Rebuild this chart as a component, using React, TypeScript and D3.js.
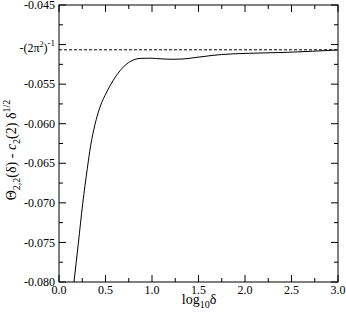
import React from 'react';
import * as d3 from 'd3';

// values
const logDelta = [0.161, 0.208, 0.255, 0.304, 0.34, 0.387, 0.441, 0.513, 0.584, 0.656, 0.745, 0.871, 0.978, 1.118, 1.226, 1.333, 1.484, 1.656, 1.839, 2.05, 2.45, 3.0];
const theta = [-0.0800, -0.0751, -0.0701, -0.0657, -0.0628, -0.0601, -0.0579, -0.0560, -0.0545, -0.0533, -0.0523, -0.05175, -0.05172, -0.05182, -0.05186, -0.05182, -0.05161, -0.05136, -0.05119, -0.0511, -0.05098, -0.05068];

const xMajor = [0, 0.5, 1.0, 1.5, 2.0, 2.5, 3.0];
const xMinor = [0.25, 0.75, 1.25, 1.75, 2.25, 2.75];
const yMajor = [-0.080, -0.075, -0.070, -0.065, -0.060, -0.055, -0.050, -0.045];
const yMinor = [-0.0775, -0.0725, -0.0675, -0.0625, -0.0575, -0.0525, -0.0475];
const yLabels = ['-0.080', '-0.075', '-0.070', '-0.065', '-0.060', '-0.055', '', '-0.045'];
const asymptote = -1 / (2 * Math.PI * Math.PI);

const W = 346, H = 315;
const m = { left: 59, right: 338, top: 5, bottom: 282 };
const css = `svg text, svg tspan { font-family: "Liberation Serif", "Times New Roman", Tinos, serif !important; }`;

export default function App() {
  const x = d3.scaleLinear().domain([0, 3]).range([m.left, m.right]);
  const y = d3.scaleLinear().domain([-0.080, -0.045]).range([m.bottom, m.top]);

  const pts: [number, number][] = logDelta.map((d, i) => [d, theta[i]]);
  const line = d3.line<[number, number]>()
    .x(d => x(d[0]))
    .y(d => y(d[1]))
    .curve(d3.curveMonotoneX);

  const ya = y(asymptote);

  return (
    <svg width={W} height={H} style={{ position: 'absolute', left: 0, top: 0 }}>
      <style>{css}</style>
      <rect width={W} height={H} fill="white" />
      <defs>
        <clipPath id="plot">
          <rect x={m.left} y={m.top} width={m.right - m.left} height={m.bottom - m.top} />
        </clipPath>
      </defs>

      {/* ticks, inward on all four sides */}
      <g stroke="black" strokeWidth={1}>
        {xMajor.map(v => (
          <g key={'xM' + v}>
            <line x1={x(v)} x2={x(v)} y1={m.bottom} y2={m.bottom - 7} />
            <line x1={x(v)} x2={x(v)} y1={m.top} y2={m.top + 7} />
          </g>
        ))}
        {xMinor.map(v => (
          <g key={'xm' + v}>
            <line x1={x(v)} x2={x(v)} y1={m.bottom} y2={m.bottom - 4} />
            <line x1={x(v)} x2={x(v)} y1={m.top} y2={m.top + 4} />
          </g>
        ))}
        {yMajor.map(v => (
          <g key={'yM' + v}>
            <line x1={m.left} x2={m.left + 7} y1={y(v)} y2={y(v)} />
            <line x1={m.right} x2={m.right - 7} y1={y(v)} y2={y(v)} />
          </g>
        ))}
        {yMinor.map(v => (
          <g key={'ym' + v}>
            <line x1={m.left} x2={m.left + 4} y1={y(v)} y2={y(v)} />
            <line x1={m.right} x2={m.right - 4} y1={y(v)} y2={y(v)} />
          </g>
        ))}
      </g>

      <line x1={m.left} x2={m.right} y1={ya} y2={ya}
            stroke="black" strokeWidth={1} strokeDasharray="3,2" />

      <path d={line(pts) ?? ''} fill="none" stroke="black" strokeWidth={1}
            clipPath="url(#plot)" />

      <rect x={m.left} y={m.top} width={m.right - m.left} height={m.bottom - m.top}
            fill="none" stroke="black" strokeWidth={1} />

      {/* tick labels */}
      <g fontSize={12} fill="black">
        {xMajor.map(v => (
          <text key={'xl' + v} x={x(v)} y={294} textAnchor="middle">{v.toFixed(1)}</text>
        ))}
        {yMajor.map((v, i) => yLabels[i] && (
          <text key={'yl' + v} x={55} y={y(v)} dy="0.35em" textAnchor="end">{yLabels[i]}</text>
        ))}
        <text x={55} y={ya + 2} textAnchor="end">
          -(2π<tspan dy={-5} fontSize={8}>2</tspan><tspan dy={5}>)</tspan>
          <tspan dy={-6} fontSize={9}>-1</tspan>
        </text>
      </g>

      {/* axis titles */}
      <text x={199} y={304} fontSize={14} textAnchor="middle">
        log<tspan dy={4} fontSize={10}>10</tspan><tspan dy={-4}>δ</tspan>
      </text>
      <text transform="translate(16,150) rotate(-90)" fontSize={14} textAnchor="middle">
        Θ<tspan dy={4} fontSize={10}>2,2</tspan><tspan dy={-4}>(δ) - </tspan>
        <tspan fontStyle="italic">c</tspan><tspan dy={4} fontSize={10}>2</tspan>
        <tspan dy={-4}>(2) δ</tspan><tspan dy={-6} fontSize={10}>1/2</tspan>
      </text>
    </svg>
  );
}
